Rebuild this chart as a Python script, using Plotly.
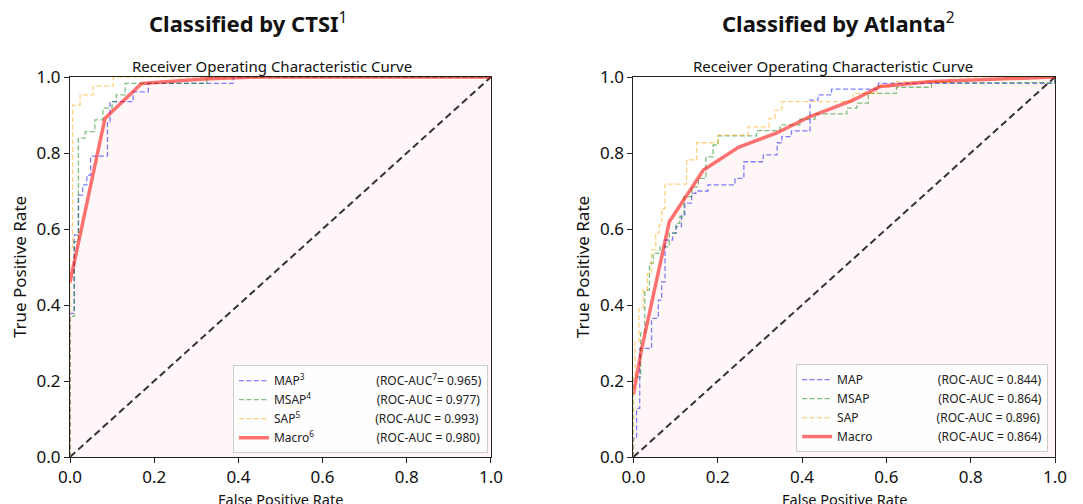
import plotly.graph_objects as go

# ---------------- data ----------------
# Left panel: classified by CTSI (step points, 'hv' shape)
ctsi_map_fpr = [0, 0, 0.010, 0.020, 0.030, 0.040, 0.049, 0.089, 0.095, 0.150, 0.186, 0.388, 1.0]
ctsi_map_tpr = [0, 0.378, 0.584, 0.689, 0.716, 0.742, 0.792, 0.882, 0.935, 0.961, 0.983, 1.0, 1.0]

ctsi_msap_fpr = [0, 0, 0.010, 0.020, 0.036, 0.059, 0.078, 0.100, 0.110, 0.131, 0.325, 1.0]
ctsi_msap_tpr = [0, 0.37, 0.567, 0.839, 0.856, 0.887, 0.918, 0.935, 0.953, 0.983, 1.0, 1.0]

ctsi_sap_fpr = [0, 0, 0.006, 0.024, 0.055, 0.103, 1.0]
ctsi_sap_tpr = [0, 0.55, 0.926, 0.953, 0.976, 1.0, 1.0]

ctsi_macro_fpr = [0, 0.083, 0.095, 0.170, 0.317, 0.45, 1.0]
ctsi_macro_tpr = [0.46, 0.891, 0.904, 0.983, 0.995, 1.0, 1.0]

# Right panel: classified by Atlanta
atl_map_fpr = [0, 0, 0.0075, 0.015, 0.043, 0.059, 0.067, 0.075, 0.093, 0.101, 0.114, 0.122,
               0.138, 0.148, 0.177, 0.241, 0.262, 0.308, 0.341, 0.352, 0.375, 0.419, 0.438,
               0.470, 0.581, 1.0, 1.0]
atl_map_tpr = [0, 0.049, 0.128, 0.286, 0.365, 0.413, 0.461, 0.571, 0.589, 0.606, 0.637, 0.668,
               0.694, 0.700, 0.716, 0.733, 0.777, 0.795, 0.827, 0.843, 0.858, 0.939, 0.953,
               0.968, 0.983, 0.983, 1.0]

atl_msap_fpr = [0, 0, 0.017, 0.027, 0.038, 0.047, 0.063, 0.085, 0.101, 0.110, 0.120, 0.138,
                0.154, 0.172, 0.189, 0.201, 0.292, 0.348, 0.395, 0.431, 0.506, 0.530, 0.557,
                0.624, 0.707, 1.0, 1.0]
atl_msap_tpr = [0, 0.21, 0.326, 0.439, 0.510, 0.536, 0.553, 0.589, 0.615, 0.632, 0.685, 0.711,
                0.733, 0.790, 0.821, 0.845, 0.859, 0.874, 0.889, 0.903, 0.918, 0.931, 0.957,
                0.973, 0.985, 0.985, 1.0]

atl_sap_fpr = [0, 0, 0.004, 0.013, 0.023, 0.033, 0.043, 0.053, 0.061, 0.067, 0.075, 0.126,
               0.150, 0.201, 0.272, 0.322, 0.336, 0.352, 0.521, 0.577, 0.616, 0.75, 1.0]
atl_sap_tpr = [0, 0.21, 0.303, 0.391, 0.440, 0.483, 0.545, 0.589, 0.611, 0.654, 0.718, 0.782,
               0.827, 0.847, 0.869, 0.891, 0.913, 0.935, 0.957, 0.975, 0.988, 1.0, 1.0]

atl_macro_fpr = [0, 0.019, 0.085, 0.166, 0.249, 0.340, 0.419, 0.521, 0.585, 0.707, 1.0]
atl_macro_tpr = [0.165, 0.282, 0.619, 0.755, 0.815, 0.853, 0.896, 0.939, 0.975, 0.988, 1.0]

diag_x = [0, 1]
diag_y = [0, 1]

ctsi_labels = ["MAP<sup>3</sup>", "MSAP<sup>4</sup>", "SAP<sup>5</sup>", "Macro<sup>6</sup>"]
ctsi_auc = ["(ROC-AUC<sup>7</sup>= 0.965)", "(ROC-AUC = 0.977)", "(ROC-AUC = 0.993)", "(ROC-AUC = 0.980)"]
ctsi_pad = [23, 21, 24, 20]
atl_labels = ["MAP", "MSAP", "SAP", "Macro"]
atl_auc = ["(ROC-AUC = 0.844)", "(ROC-AUC = 0.864)", "(ROC-AUC = 0.896)", "(ROC-AUC = 0.864)"]
atl_pad = [24, 22, 25, 21]

ticks = [0.0, 0.2, 0.4, 0.6, 0.8, 1.0]

# ---------------- styles ----------------
FONT = "Noto Sans"
C_MAP = "rgba(0,0,255,0.5)"
C_MSAP = "rgba(0,128,0,0.5)"
C_SAP = "rgba(255,165,0,0.5)"
C_MACRO = "rgba(255,0,0,0.55)"
FILL = "rgba(255,0,0,0.03)"
DASH = "5px,2.5px"

fig = go.Figure()

def add_panel(xa, ya, leg, data, labels, aucs, pads):
    (mf, mt), (sf, st), (af, at), (cf, ct) = data
    # fill under macro curve
    fig.add_trace(go.Scatter(x=cf, y=ct, mode="lines", line=dict(width=0), fill="tozeroy",
                             fillcolor=FILL, showlegend=False, hoverinfo="skip", xaxis=xa, yaxis=ya))
    fig.add_trace(go.Scatter(x=diag_x, y=diag_y, mode="lines",
                             line=dict(color="#333333", width=2, dash="7px,4px"),
                             showlegend=False, xaxis=xa, yaxis=ya))
    series = [(mf, mt, C_MAP), (sf, st, C_MSAP), (af, at, C_SAP)]
    for i, (fx, ty, col) in enumerate(series):
        fig.add_trace(go.Scatter(x=fx, y=ty, mode="lines", line=dict(color=col, width=1.3, dash=DASH, shape="hv"),
                                 name=labels[i] + "\u00a0" * pads[i] + aucs[i], legend=leg,
                                 legendgroup=leg + str(i), xaxis=xa, yaxis=ya))
    fig.add_trace(go.Scatter(x=cf, y=ct, mode="lines", line=dict(color=C_MACRO, width=3.5),
                             name=labels[3] + "\u00a0" * pads[3] + aucs[3], legend=leg,
                             legendgroup=leg + "3", xaxis=xa, yaxis=ya))

add_panel("x", "y", "legend",
          [(ctsi_map_fpr, ctsi_map_tpr), (ctsi_msap_fpr, ctsi_msap_tpr),
           (ctsi_sap_fpr, ctsi_sap_tpr), (ctsi_macro_fpr, ctsi_macro_tpr)],
          ctsi_labels, ctsi_auc, ctsi_pad)
add_panel("x2", "y2", "legend2",
          [(atl_map_fpr, atl_map_tpr), (atl_msap_fpr, atl_msap_tpr),
           (atl_sap_fpr, atl_sap_tpr), (atl_macro_fpr, atl_macro_tpr)],
          atl_labels, atl_auc, atl_pad)

axis_common = dict(range=[0, 1], tickvals=ticks, tickformat=".1f", ticks="outside", ticklen=5,
                   tickcolor="#222", showline=True, linecolor="#222", linewidth=1, mirror=True,
                   showgrid=False, zeroline=False, tickfont=dict(size=17, color="#111", family=FONT),
                   automargin=False)

leg_common = dict(font=dict(size=12, family=FONT, color="#222"), bgcolor="rgba(255,255,255,0.8)",
                  bordercolor="#cccccc", borderwidth=1, itemwidth=30, tracegroupgap=0,
                  yanchor="bottom", xanchor="right")

yt = dict(text="True Positive Rate", font=dict(size=17), standoff=6)

def text_ann(text, xref, x, y, size, yanchor="middle"):
    return dict(text=text, xref=xref, yref="paper", x=x, y=y, xanchor="center", yanchor=yanchor,
                showarrow=False, font=dict(size=size, family=FONT, color="#111"))

# page body has an 8px margin, so the figure is 1075x496 inside the 1083x504 window
fig.update_layout(
    width=1075, height=496,
    margin=dict(l=62, r=28, t=69, b=47),
    paper_bgcolor="white", plot_bgcolor="white",
    font=dict(family=FONT, color="#111"),
    xaxis=dict(domain=[0, 0.4274], **axis_common),
    yaxis=dict(domain=[0, 1], title=yt, **axis_common),
    xaxis2=dict(domain=[0.572, 1.0], anchor="y2", **axis_common),
    yaxis2=dict(domain=[0, 1], anchor="x2", title=yt, **axis_common),
    legend=dict(x=0.4243, y=0.01, **leg_common),
    legend2=dict(x=0.993, y=0.013, **leg_common),
    annotations=[
        text_ann("<b>Classified by CTSI</b><sup>1</sup>", "paper", 0.1807, 1.143, 22),
        text_ann("<b>Classified by Atlanta</b><sup>2</sup>", "paper", 0.7797, 1.143, 22),
        text_ann("Receiver Operating Characteristic Curve", "paper", 0.2051, 1.028, 15),
        text_ann("Receiver Operating Characteristic Curve", "paper", 0.7743, 1.028, 15),
        text_ann("False Positive Rate", "x domain", 0.5, -0.079, 14.5, yanchor="top"),
        text_ann("False Positive Rate", "x2 domain", 0.5, -0.079, 14.5, yanchor="top"),
    ],
)

fig.write_html("out.html")
